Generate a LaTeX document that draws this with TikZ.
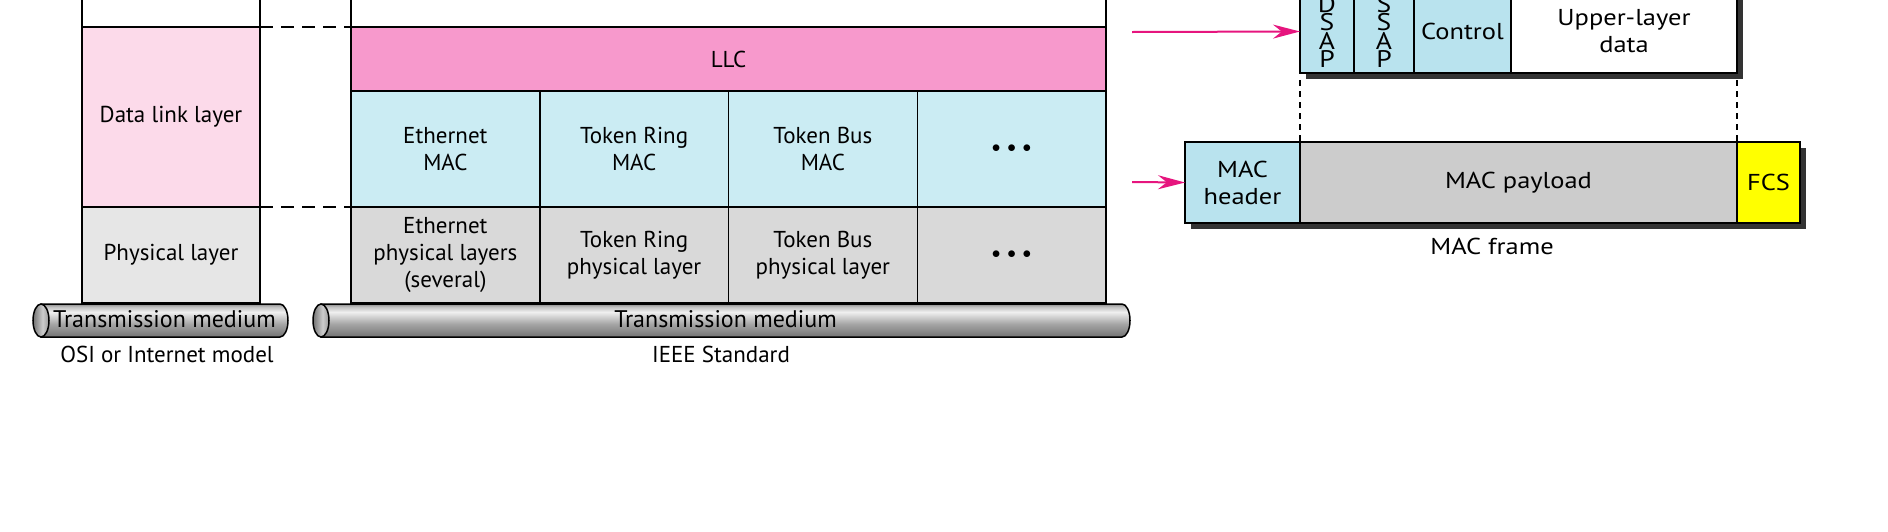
\documentclass[tikz,border=0pt]{standalone}
\usepackage{fontspec}
\setmainfont{PT Sans}
\newfontfamily\widefont[FakeStretch=1.15]{PT Sans}
\usetikzlibrary{positioning, calc, arrows.meta, shadows}

\definecolor{llcpink}{HTML}{F799CC}
\definecolor{dlpink}{HTML}{FCDAEA}
\definecolor{macblue}{HTML}{CBECF3}
\definecolor{physgray}{HTML}{D9D9D9}
\definecolor{osigray}{HTML}{E6E6E6}
\definecolor{hdrblue}{HTML}{B9E3EE}
\definecolor{paygray}{HTML}{CCCCCC}
\definecolor{fcsyellow}{HTML}{FFFF00}
\definecolor{arrowmag}{HTML}{E6157E}

\pgfdeclareverticalshading{tube}{100bp}{color(0bp)=(black!55); color(25bp)=(black!55); color(45bp)=(black!35); color(63bp)=(black!6); color(71bp)=(black!25); color(75bp)=(black!45); color(100bp)=(black!45)}
\pgfdeclarehorizontalshading{tubeend}{100bp}{color(0bp)=(black!55); color(25bp)=(black!55); color(55bp)=(black!20); color(75bp)=(black!40); color(100bp)=(black!40)}

\begin{document}
\begin{tikzpicture}[x=1pt, y=-1pt,
    every node/.style={font=\fontsize{23}{27}\selectfont},
    cell/.style={draw, line width=1.5pt, inner sep=0pt, outer sep=0pt, align=center,
      minimum width=188.75pt, minimum height=116pt},
    fbox/.style={draw, line width=1.5pt, inner sep=0pt, outer sep=0pt, align=center,
      minimum height=83pt, font=\widefont\fontsize{23}{27}\selectfont,
      drop shadow={shadow xshift=6pt, shadow yshift=-6pt, opacity=1, fill=black!80}},
    guide/.style={dashed, line width=1.5pt},
    pinkarrow/.style={-{Stealth[length=27pt, width=14pt]}, line width=2pt, draw=arrowmag},
    stack/.style={font=\widefont\fontsize{24}{18.5}\selectfont},
    dots/.style={font=\fontsize{19}{19}\selectfont}]
  \useasboundingbox (0,0) rectangle (1888,531);

  % OSI column
  \node[cell, anchor=north west, minimum width=178pt, minimum height=60pt] (ositop) at (82,-33) {};
  \node[cell, fill=dlpink, minimum width=178pt, minimum height=180pt, below=0pt of ositop] (osidl) {Data link layer};
  \node[cell, fill=osigray, minimum width=178pt, minimum height=96pt, below=0pt of osidl] (osiphy) {Physical layer};

  % IEEE column
  \node[cell, anchor=north west, minimum width=755pt, minimum height=60pt] (ieeetop) at (351,-33) {};
  \node[cell, fill=llcpink, minimum width=755pt, minimum height=64pt, below=0pt of ieeetop] (llc) {LLC};
  \node[cell, fill=macblue, anchor=north west] (ethmac) at (llc.south west) {Ethernet\\MAC};
  \node[cell, fill=macblue, right=0pt of ethmac] (trmac) {Token Ring\\MAC};
  \node[cell, fill=macblue, right=0pt of trmac] (tbmac) {Token Bus\\MAC};
  \node[cell, fill=macblue, right=0pt of tbmac, dots] (moremac) {$\bullet\,\bullet\,\bullet$};
  \node[cell, fill=physgray, minimum height=96pt, below=0pt of ethmac] (ethphy) {Ethernet\\physical layers\\(several)};
  \node[cell, fill=physgray, minimum height=96pt, below=0pt of trmac] (trphy) {Token Ring\\physical layer};
  \node[cell, fill=physgray, minimum height=96pt, below=0pt of tbmac] (tbphy) {Token Bus\\physical layer};
  \node[cell, fill=physgray, minimum height=96pt, below=0pt of moremac, dots] (morephy) {$\bullet\,\bullet\,\bullet$};

  \draw[guide, dash pattern=on 13pt off 8pt] (osidl.north east) -- (llc.north west);
  \draw[guide, dash pattern=on 13pt off 8pt] (osidl.south east) -- (ethphy.north west);

  % transmission media
  \foreach \xa/\xb/\nm in {33/288/osimed, 313/1130/ieeemed} {
    \shade[shading=tube, draw, line width=1.5pt] ({\xa+8},304) -- ({\xb-8},304)
      arc[start angle=-90, end angle=90, x radius=8, y radius=16.5] -- ({\xa+8},337) -- cycle;
    \shade[shading=tubeend, draw, line width=1.5pt] ({\xa+8},320.5) ellipse[x radius=8, y radius=16.5];
    \node[font=\fontsize{24}{27}\selectfont] (\nm) at ({(\xa+\xb)/2+4},319) {Transmission medium};
  }
  \node (osilbl) at (167,354) {OSI or Internet model};
  \node (ieeelbl) at (721,354) {IEEE Standard};

  % LLC frame
  \node[fbox, fill=hdrblue, minimum width=54pt, anchor=north west, stack] (dsap) at (1300,-10) {D\\S\\A\\P};
  \node[fbox, fill=hdrblue, minimum width=60pt, right=0pt of dsap, stack] (ssap) {S\\S\\A\\P};
  \node[fbox, fill=hdrblue, minimum width=97pt, right=0pt of ssap] (ctrl) {Control};
  \node[fbox, fill=white, minimum width=226pt, right=0pt of ctrl] (upper) {Upper-layer\\data};

  % MAC frame
  \node[fbox, fill=hdrblue, minimum width=115pt, minimum height=81pt, anchor=north west] (machdr) at (1185,142) {MAC\\header};
  \node[fbox, fill=paygray, minimum width=437pt, minimum height=81pt, right=0pt of machdr] (macpay) {MAC payload};
  \node[fbox, fill=fcsyellow, minimum width=63pt, minimum height=81pt, right=0pt of macpay] (fcs) {FCS};
  \node[font=\widefont\fontsize{23}{27}\selectfont] (framelbl) at (1492,246) {MAC frame};

  \draw[guide, dash pattern=on 6pt off 5pt] ($(dsap.south west)+(0,7)$) -- (macpay.north west);
  \draw[guide, dash pattern=on 6pt off 5pt] ($(upper.south east)+(0,7)$) -- (fcs.north west);

  \coordinate (llcsrc) at (1132,32);
  \coordinate (macsrc) at (1132,182);
  \draw[pinkarrow] (llcsrc) -- (dsap.west);
  \draw[pinkarrow] (macsrc) -- (machdr.west);
\end{tikzpicture}
\end{document}
